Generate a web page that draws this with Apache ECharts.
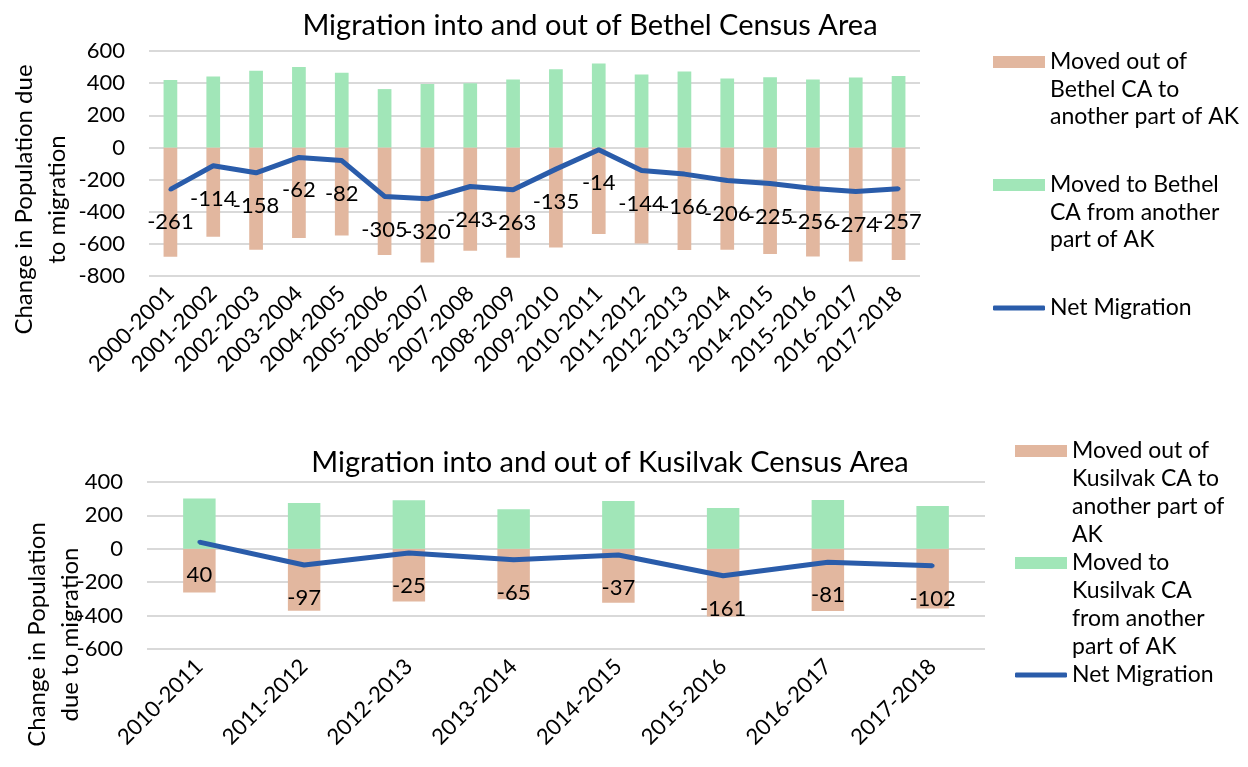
<!DOCTYPE html>
<html>
<head>
<meta charset="utf-8">
<script src="https://cdn.jsdelivr.net/npm/echarts@6/dist/echarts.min.js"></script>
<style>
html,body{margin:0;padding:0;background:#fff;}
#chart{width:1248px;height:767px;}
</style>
</head>
<body>
<div id="chart"></div>
<script>
// ---- Bethel Census Area ----
var bethelYears = ['2000-2001','2001-2002','2002-2003','2003-2004','2004-2005','2005-2006','2006-2007','2007-2008','2008-2009','2009-2010','2010-2011','2011-2012','2012-2013','2013-2014','2014-2015','2015-2016','2016-2017','2017-2018'];
var bethelIn  = [419, 441, 477, 500, 465, 363, 395, 400, 423, 487, 523, 454, 472, 429, 437, 422, 435, 444];
var bethelOut = [-680, -556, -637, -563, -548, -669, -716, -643, -687, -623, -538, -598, -638, -636, -663, -679, -709, -701];
var bethelNet = [-261, -114, -158, -62, -82, -305, -320, -243, -263, -135, -14, -144, -166, -206, -225, -256, -274, -257];

// ---- Kusilvak Census Area ----
var kusYears = ['2010-2011','2011-2012','2012-2013','2013-2014','2014-2015','2015-2016','2016-2017','2017-2018'];
var kusIn  = [301, 274, 291, 237, 286, 244, 292, 256];
var kusOut = [-262, -371, -316, -302, -323, -405, -373, -358];
var kusNet = [40, -97, -25, -65, -37, -161, -81, -102];

var bethelTicks = {min: -800, max: 600, interval: 200};
var kusTicks = {min: -600, max: 400, interval: 200};

var nameBOut = 'Moved out of\nBethel CA to\nanother part of AK';
var nameBIn  = 'Moved to Bethel\nCA from another\npart of AK';
var nameKOut = 'Moved out of\nKusilvak CA to\nanother part of\nAK';
var nameKIn  = 'Moved to\nKusilvak CA\nfrom another\npart of AK';
var nameNet = 'Net Migration';
var nameNet2 = 'Net Migration ';

var FONT = 'Lato';
var ORANGE = '#E2B79F';
var GREEN = '#A1E6B8';
var BLUE = '#2A5CAA';
var GRID = '#D9D9D9';

function legendItem(name, top, left, lines, lh, isLine) {
  var lead = '';
  for (var i = 1; i < lines; i++) lead += '\n';
  return {
    data: [name], orient: 'vertical', left: left, top: top, padding: 0,
    itemWidth: 52, itemHeight: isLine ? 5 : 12, itemGap: 0, selectedMode: false,
    icon: isLine ? 'roundRect' : 'rect',
    formatter: function (n) { return lead + n.replace(/\s+$/, ''); },
    textStyle: {fontFamily: FONT, fontSize: 23, color: '#000', lineHeight: lh}
  };
}

var chart = echarts.init(document.getElementById('chart'), null, {renderer: 'canvas'});

function yAxisCfg(gridIndex, ticks, name, nameGap, shift) {
  return {
    type: 'value', gridIndex: gridIndex, min: ticks.min, max: ticks.max, interval: ticks.interval,
    name: name, nameLocation: 'middle', nameRotate: 90, nameGap: nameGap, nameMoveOverlap: false,
    nameTextStyle: {fontFamily: FONT, fontSize: 24, color: '#000', lineHeight: 33, align: 'center', padding: [0, shift, 0, 0]},
    axisLine: {show: false}, axisTick: {show: false},
    axisLabel: {fontFamily: FONT, fontSize: 22, color: '#000', margin: 24},
    splitLine: {lineStyle: {color: GRID, width: 2}}
  };
}
function xAxisCfg(gridIndex, cats) {
  return {
    type: 'category', gridIndex: gridIndex, data: cats,
    axisLine: {show: false, onZero: false}, axisTick: {show: false},
    axisLabel: {fontFamily: FONT, fontSize: 22, color: '#000', rotate: 45, interval: 0, margin: 14, hideOverlap: false}
  };
}

var option = {
  backgroundColor: '#fff',
  animation: false,
  title: [
    {text: 'Migration into and out of Bethel Census Area', left: 585, top: 6, textAlign: 'center',
     textStyle: {fontFamily: FONT, fontSize: 29, fontWeight: 'normal', color: '#000'}},
    {text: 'Migration into and out of Kusilvak Census Area', left: 605, top: 443, textAlign: 'center',
     textStyle: {fontFamily: FONT, fontSize: 29, fontWeight: 'normal', color: '#000'}}
  ],
  legend: [
    legendItem(nameBOut, 62 - 68.75, 993, 3, 27.5, false),
    legendItem(nameBIn, 185 - 68.75, 993, 3, 27.5, false),
    legendItem(nameNet, 308 - 13.75, 993, 1, 27.5, true),
    legendItem(nameKOut, 451 - 98, 1015, 4, 28, false),
    legendItem(nameKIn, 563 - 98, 1015, 4, 28, false),
    legendItem(nameNet2, 675 - 14, 1015, 1, 28, true)
  ],
  grid: [
    {left: 149, top: 51, width: 771, height: 225, outerBoundsMode: 'none', containLabel: false},
    {left: 147, top: 482, width: 838, height: 167, outerBoundsMode: 'none', containLabel: false}
  ],
  xAxis: [xAxisCfg(0, bethelYears), xAxisCfg(1, kusYears)],
  yAxis: [
    yAxisCfg(0, bethelTicks, 'Change in Population due\nto migration', 75, 72),
    yAxisCfg(1, kusTicks, 'Change in Population\ndue to migration', 60, 138)
  ],
  series: [
    {name: nameBOut, type: 'bar', xAxisIndex: 0, yAxisIndex: 0, stack: 'b', data: bethelOut, barWidth: '32%', itemStyle: {color: ORANGE}},
    {name: nameBIn, type: 'bar', xAxisIndex: 0, yAxisIndex: 0, stack: 'b', data: bethelIn, barWidth: '32%', itemStyle: {color: GREEN}},
    {name: nameNet, type: 'line', xAxisIndex: 0, yAxisIndex: 0, data: bethelNet, z: 5,
     symbol: 'circle', symbolSize: 4, showSymbol: true, itemStyle: {color: BLUE},
     lineStyle: {color: BLUE, width: 5},
     label: {show: true, position: 'bottom', distance: 20, fontFamily: FONT, fontSize: 22, color: '#000'}},
    {name: nameKOut, type: 'bar', xAxisIndex: 1, yAxisIndex: 1, stack: 'k', data: kusOut, barWidth: '31%', itemStyle: {color: ORANGE}},
    {name: nameKIn, type: 'bar', xAxisIndex: 1, yAxisIndex: 1, stack: 'k', data: kusIn, barWidth: '31%', itemStyle: {color: GREEN}},
    {name: nameNet2, type: 'line', xAxisIndex: 1, yAxisIndex: 1, data: kusNet, z: 5,
     symbol: 'circle', symbolSize: 4, showSymbol: true, itemStyle: {color: BLUE},
     lineStyle: {color: BLUE, width: 5},
     label: {show: true, position: 'bottom', distance: 20, fontFamily: FONT, fontSize: 22, color: '#000'}}
  ]
};
chart.setOption(option);
</script>
</body>
</html>
